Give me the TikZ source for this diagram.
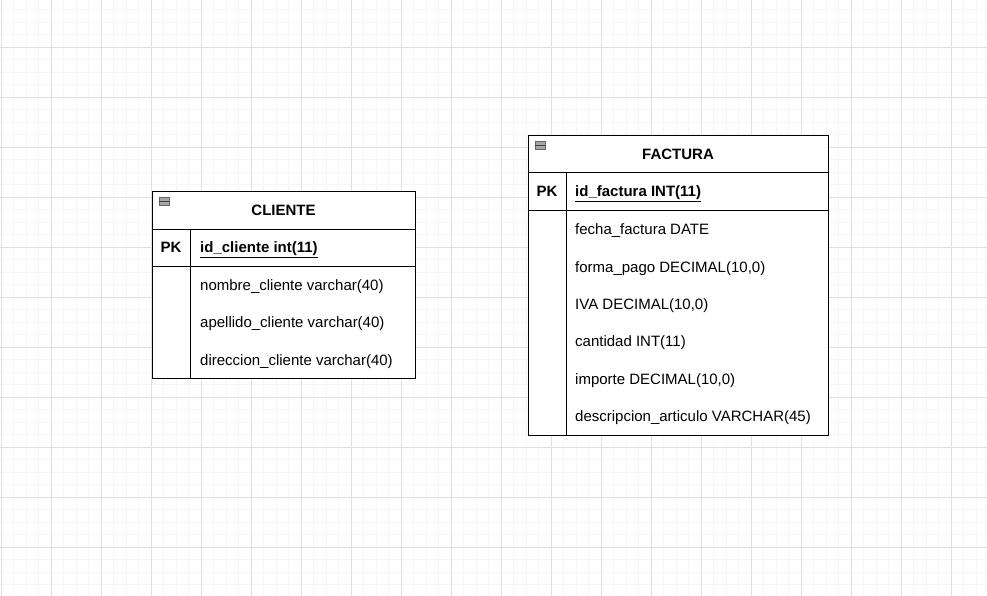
\documentclass[tikz,border=0pt]{standalone}
\usepackage{fontspec}
\setmainfont{Liberation Sans}
\usetikzlibrary{positioning}

\tikzset{
  gridminor/.style={draw=black!4, line width=0.6pt},
  gridmajor/.style={draw=black!12, line width=0.6pt},
  tablebox/.style={draw=black, line width=1pt, fill=white, inner sep=0pt, anchor=north west},
  tableline/.style={draw=black, line width=1pt},
  titletext/.style={font=\fontsize{15}{17}\selectfont\bfseries},
  keytext/.style={font=\fontsize{15}{17}\selectfont\bfseries},
  fieldtext/.style={font=\fontsize{15}{17}\selectfont, anchor=base west, inner sep=0pt},
  minusicon/.style={draw=black!60, fill=black!35, minimum width=10pt, minimum height=8pt, inner sep=0pt}
}

\begin{document}
\begin{tikzpicture}[x=1pt, y=-1pt]

\useasboundingbox (0,0) rectangle (987,596);
\fill[white] (0,0) rectangle (987,596);

% --------- Background grid ----------
\foreach \i in {0,...,79}{
  \draw[gridminor] (1+12.5*\i,0) -- (1+12.5*\i,596);
}
\foreach \j in {0,...,48}{
  \draw[gridminor] (0,-3+12.5*\j) -- (987,-3+12.5*\j);
}
\foreach \i in {0,...,19}{
  \draw[gridmajor] (1+50*\i,0) -- (1+50*\i,596);
}
\foreach \j in {0,...,11}{
  \draw[gridmajor] (0,47+50*\j-50) -- (987,47+50*\j-50);
}

% --------- CLIENTE table ----------
\node[tablebox, minimum width=263pt, minimum height=187pt] (cliente) at (152,191) {};
\draw[tableline] (152,229) -- (415,229);
\draw[tableline] (152,266) -- (415,266);
\draw[tableline] (190,229) -- (190,378);

\node[minusicon] (cliente icon) at (164,201) {};
\draw[black!75, line width=1pt] (cliente icon.west) -- (cliente icon.east);
\node[titletext] (cliente title) at (283.5,210.5) {CLIENTE};
\node[keytext] (cliente pk) at (171,247.5) {PK};
\node[fieldtext, font=\fontsize{15}{17}\selectfont\bfseries] (cliente id) at (200,252.5)
  {\underline{id\_cliente int(11)}};

\foreach \y/\txt [count=\k] in {285/nombre\_cliente varchar(40),
                                322.5/apellido\_cliente varchar(40),
                                360/direccion\_cliente varchar(40)}{
  \node[fieldtext] (cliente f\k) at (200,\y+5) {\txt};
}

% --------- FACTURA table ----------
\node[tablebox, minimum width=300pt, minimum height=300pt] (factura) at (528,135) {};
\draw[tableline] (528,172.5) -- (828,172.5);
\draw[tableline] (528,210) -- (828,210);
\draw[tableline] (566,172.5) -- (566,435);

\node[minusicon] (factura icon) at (540,145.5) {};
\draw[black!75, line width=1pt] (factura icon.west) -- (factura icon.east);
\node[titletext] (factura title) at (678,154) {FACTURA};
\node[keytext] (factura pk) at (547,191.5) {PK};
\node[fieldtext, font=\fontsize{15}{17}\selectfont\bfseries] (factura id) at (575,196.5)
  {\underline{id\_factura INT(11)}};

\foreach \y/\txt [count=\k] in {229/fecha\_factura DATE,
                                267/forma\_pago DECIMAL(10{,}0),
                                304/IVA DECIMAL(10{,}0),
                                341.5/cantidad INT(11),
                                379/importe DECIMAL(10{,}0),
                                416.5/descripcion\_articulo VARCHAR(45)}{
  \node[fieldtext] (factura f\k) at (575,\y+5) {\txt};
}

\end{tikzpicture}
\end{document}
